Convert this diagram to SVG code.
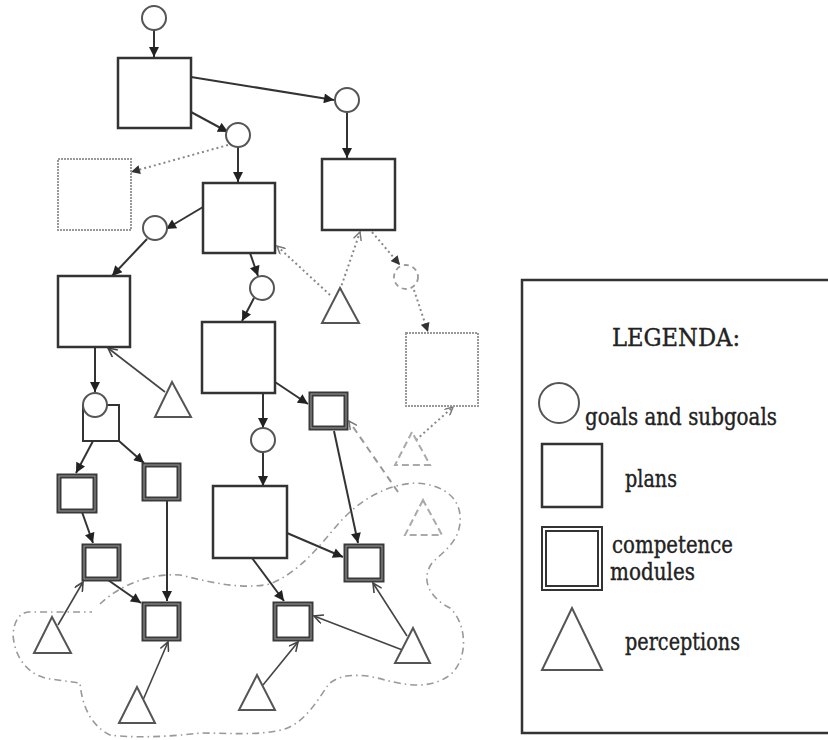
<svg xmlns="http://www.w3.org/2000/svg" width="828" height="740" viewBox="0 0 828 740">
<style>
.plan{fill:#fff;stroke:#333;stroke-width:2.5}
.goal{fill:#fff;stroke:#555;stroke-width:2}
.cmo{fill:#fff;stroke:#3a3a3a;stroke-width:5}
.cmi{fill:none;stroke:#999;stroke-width:1}
.per{fill:#fff;stroke:#555;stroke-width:2}
.fplan{fill:#fff;stroke:#999;stroke-width:2;stroke-dasharray:2 1}
.fper{fill:none;stroke:#aaa;stroke-width:2;stroke-dasharray:7 4}
.fgoal{fill:none;stroke:#999;stroke-width:1.8;stroke-dasharray:5 4}
.c{fill:none;stroke:#333;stroke-width:2}
.co{fill:none;stroke:#444;stroke-width:1.6}
.dot{fill:none;stroke:#888;stroke-width:2;stroke-dasharray:2 3}
.dash{fill:none;stroke:#999;stroke-width:2;stroke-dasharray:7 5}
.cloud{fill:none;stroke:#999;stroke-width:1.6;stroke-dasharray:7 4 1.5 4}
.lt{font-family:"DejaVu Serif","Liberation Serif","Noto Serif",serif;font-size:25px;fill:#222;stroke:#222;stroke-width:0.4}
</style>
<defs>
<marker id="af" viewBox="0 0 10 10" refX="10" refY="5" markerWidth="11" markerHeight="10" markerUnits="userSpaceOnUse" orient="auto"><path d="M0,0 L10,5 L0,10 z" fill="#222"/></marker>
<marker id="ao" viewBox="0 0 10 10" refX="9" refY="5" markerWidth="11" markerHeight="10" markerUnits="userSpaceOnUse" orient="auto"><path d="M0,0.5 L9,5 L0,9.5" fill="none" stroke="#444" stroke-width="1.6"/></marker>
<marker id="afg" viewBox="0 0 10 10" refX="10" refY="5" markerWidth="10" markerHeight="9" markerUnits="userSpaceOnUse" orient="auto"><path d="M0,0 L10,5 L0,10 z" fill="#333"/></marker>
<marker id="aog" viewBox="0 0 10 10" refX="9" refY="5" markerWidth="10" markerHeight="9" markerUnits="userSpaceOnUse" orient="auto"><path d="M0,0.5 L9,5 L0,9.5" fill="none" stroke="#777" stroke-width="1.6"/></marker>
</defs>
<rect width="828" height="740" fill="#fff"/>

<path id="cloud" class="cloud" d="M100,604 C120,585 150,573 180,575 C210,582 240,590 270,584 C300,572 320,545 340,522 C360,500 385,485 415,483 C440,484 458,495 460,515 C462,540 445,550 432,563 C420,580 430,598 450,608 C468,625 468,660 450,675 C430,690 405,685 385,680 C365,674 340,672 328,685 C318,700 305,722 285,729 C260,736 230,733 200,733 C170,737 130,738 110,735 C90,725 82,705 80,683 L50,679 C30,676 15,660 13,635 C14,620 20,613 28,612 L92,612"/>

<g id="connectors">
<line class="c" x1="154" y1="30" x2="154" y2="57" marker-end="url(#af)"/>
<line class="c" x1="191" y1="77" x2="334" y2="100" marker-end="url(#af)"/>
<line class="c" x1="191" y1="112" x2="228" y2="132" marker-end="url(#af)"/>
<line class="c" x1="238" y1="147" x2="238" y2="182" marker-end="url(#af)"/>
<line class="c" x1="347" y1="112" x2="347" y2="158" marker-end="url(#af)"/>
<line class="c" x1="203" y1="207" x2="166" y2="229" marker-end="url(#af)"/>
<line class="c" x1="147" y1="239" x2="112" y2="276" marker-end="url(#af)"/>
<line class="c" x1="95" y1="347" x2="95" y2="392" marker-end="url(#af)"/>
<line class="c" x1="250" y1="253" x2="258" y2="276" marker-end="url(#af)"/>
<line class="c" x1="254" y1="298" x2="242" y2="321" marker-end="url(#af)"/>
<line class="c" x1="263" y1="393" x2="263" y2="428" marker-end="url(#af)"/>
<line class="c" x1="263" y1="452" x2="263" y2="486" marker-end="url(#af)"/>
<line class="c" x1="93" y1="441" x2="76" y2="473" marker-end="url(#af)"/>
<line class="c" x1="119" y1="441" x2="144" y2="463" marker-end="url(#af)"/>
<line class="c" x1="82" y1="512" x2="93" y2="543" marker-end="url(#af)"/>
<line class="c" x1="167" y1="500" x2="167" y2="601" marker-end="url(#af)"/>
<line class="c" x1="108" y1="580" x2="141" y2="603" marker-end="url(#af)"/>
<line class="c" x1="252" y1="558" x2="284" y2="601" marker-end="url(#af)"/>
<line class="c" x1="287" y1="533" x2="343" y2="557" marker-end="url(#af)"/>
<line class="c" x1="334" y1="431" x2="358" y2="543" marker-end="url(#af)"/>
<line class="c" x1="275" y1="382" x2="308" y2="404" marker-end="url(#af)"/>

<line class="co" x1="165" y1="392" x2="108" y2="348" marker-end="url(#ao)"/>
<line class="co" x1="58" y1="625" x2="83" y2="582" marker-end="url(#ao)"/>
<line class="co" x1="143" y1="700" x2="168" y2="642" marker-end="url(#ao)"/>
<line class="co" x1="263" y1="685" x2="298" y2="642" marker-end="url(#ao)"/>
<line class="co" x1="405" y1="651" x2="314" y2="616" marker-end="url(#ao)"/>
<line class="co" x1="407" y1="636" x2="373" y2="583" marker-end="url(#ao)"/>

<line class="dot" x1="228" y1="145" x2="131" y2="172" marker-end="url(#afg)"/>
<line class="dot" x1="340" y1="290" x2="360" y2="232" marker-end="url(#aog)"/>
<line class="dot" x1="330" y1="295" x2="277" y2="246" marker-end="url(#aog)"/>
<line class="dot" x1="372" y1="232" x2="400" y2="265" marker-end="url(#afg)"/>
<line class="dot" x1="414" y1="290" x2="428" y2="332" marker-end="url(#afg)"/>
<line class="dot" x1="416" y1="440" x2="453" y2="407" marker-end="url(#aog)"/>
<line class="dash" x1="398" y1="492" x2="349" y2="421" marker-end="url(#aog)"/>
</g>

<g id="g-top"><circle class="goal" cx="154" cy="18" r="12"/></g>
<g id="p-top"><rect class="plan" x="118" y="58" width="73" height="70"/></g>
<g id="g-right"><circle class="goal" cx="347" cy="100" r="12"/></g>
<g id="g-mid"><circle class="goal" cx="238" cy="135" r="12"/></g>
<g id="p-faded-left"><rect class="fplan" x="58" y="159" width="73" height="71"/></g>
<g id="p-mid"><rect class="plan" x="203" y="183" width="72" height="70"/></g>
<g id="p-right"><rect class="plan" x="322" y="159" width="73" height="71"/></g>
<g id="g-left"><circle class="goal" cx="155" cy="228" r="12"/></g>
<g id="p-left"><rect class="plan" x="58" y="276" width="72" height="71"/></g>
<g id="g-mid2"><circle class="goal" cx="262" cy="288" r="12"/></g>
<g id="p-mid2"><rect class="plan" x="202" y="322" width="73" height="71"/></g>
<g id="t-left"><polygon class="per" points="172,382 155,417 191,417"/></g>
<g id="p-small"><rect class="plan" x="83" y="405" width="36" height="36" style="stroke-width:2"/><circle class="goal" cx="95" cy="405" r="12"/></g>
<g id="g-mid3"><circle class="goal" cx="263" cy="440" r="12"/></g>
<g id="p-low"><rect class="plan" x="213" y="486" width="74" height="72"/></g>
<g id="t-faded-mid"><polygon class="per" points="340,288 322,323 359,323"/></g>
<g id="g-faded"><circle class="fgoal" cx="406" cy="277" r="12"/></g>
<g id="p-faded-right"><rect class="fplan" x="406" y="333" width="72" height="73"/></g>
<g id="t-faded1"><polygon class="fper" points="412,432 395,465 430,465"/></g>
<g id="t-faded2"><polygon class="fper" points="423,500 405,535 442,535"/></g>

<g id="cm1"><rect class="cmo" x="59" y="476" width="36" height="35"/><rect class="cmi" x="59" y="476" width="36" height="35"/></g>
<g id="cm2"><rect class="cmo" x="144" y="465" width="35" height="34"/><rect class="cmi" x="144" y="465" width="35" height="34"/></g>
<g id="cm3"><rect class="cmo" x="84" y="546" width="35" height="33"/><rect class="cmi" x="84" y="546" width="35" height="33"/></g>
<g id="cm4"><rect class="cmo" x="144" y="604" width="35" height="35"/><rect class="cmi" x="144" y="604" width="35" height="35"/></g>
<g id="cm5"><rect class="cmo" x="275" y="604" width="36" height="35"/><rect class="cmi" x="275" y="604" width="36" height="35"/></g>
<g id="cm6"><rect class="cmo" x="346" y="546" width="36" height="34"/><rect class="cmi" x="346" y="546" width="36" height="34"/></g>
<g id="cm7"><rect class="cmo" x="311" y="394" width="35" height="34"/><rect class="cmi" x="311" y="394" width="35" height="34"/></g>

<g id="t1"><polygon class="per" points="52,617 34,653 71,653"/></g>
<g id="t2"><polygon class="per" points="137,687 119,723 155,723"/></g>
<g id="t3"><polygon class="per" points="257,675 239,710 275,710"/></g>
<g id="t4"><polygon class="per" points="413,628 395,663 430,663"/></g>

<g id="legend">
<rect x="522" y="280" width="320" height="453" fill="#fff" stroke="#333" stroke-width="2.5"/>
<text class="lt" x="612" y="346" textLength="128" lengthAdjust="spacingAndGlyphs">LEGENDA:</text>
<circle cx="559" cy="403" r="20" fill="#fff" stroke="#555" stroke-width="2"/>
<text class="lt" x="585" y="425" textLength="192" lengthAdjust="spacingAndGlyphs">goals and subgoals</text>
<rect x="542" y="444" width="60" height="63" fill="#fff" stroke="#333" stroke-width="2.5"/>
<text class="lt" x="625" y="487" textLength="52" lengthAdjust="spacingAndGlyphs">plans</text>
<rect x="542" y="527" width="60" height="63" fill="#fff" stroke="#333" stroke-width="2"/>
<rect x="546" y="531" width="52" height="55" fill="#fff" stroke="#333" stroke-width="2"/>
<text class="lt" x="612" y="553" textLength="121" lengthAdjust="spacingAndGlyphs">competence</text>
<text class="lt" x="610" y="580" textLength="85" lengthAdjust="spacingAndGlyphs">modules</text>
<polygon points="572,608 542,670 602,670" fill="#fff" stroke="#555" stroke-width="2"/>
<text class="lt" x="625" y="650" textLength="115" lengthAdjust="spacingAndGlyphs">perceptions</text>
</g>
</svg>
